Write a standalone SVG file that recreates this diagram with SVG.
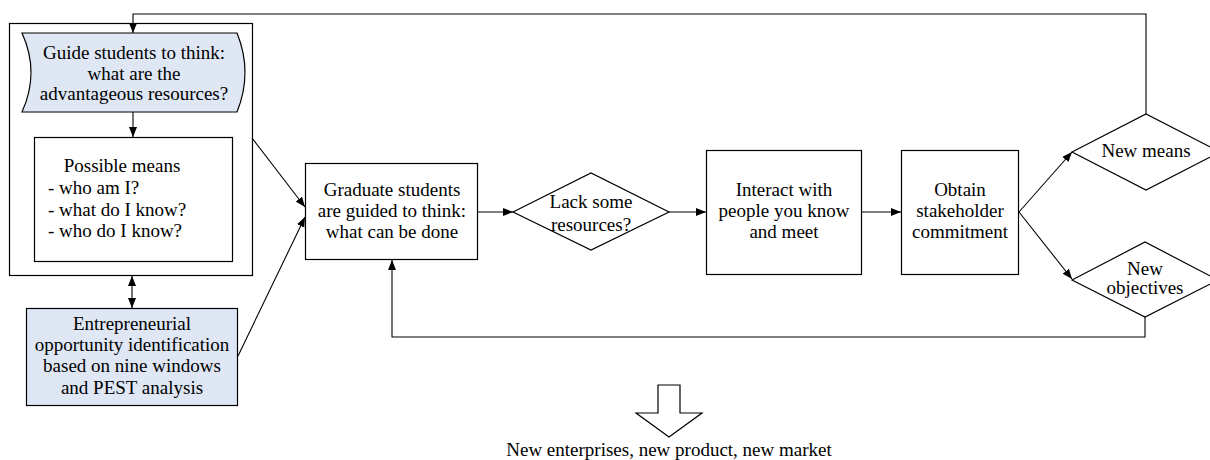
<svg xmlns="http://www.w3.org/2000/svg" width="1210" height="460" viewBox="0 0 1210 460">
<defs>
<marker id="ah" markerUnits="userSpaceOnUse" markerWidth="11" markerHeight="9" refX="10" refY="4" orient="auto-start-reverse" viewBox="0 0 11 9">
<path d="M0,0 L10,4 L0,8 z" fill="#000"/>
</marker>
<style>
.s{fill:#fff;stroke:#000;stroke-width:1.2}
.b{fill:#dfe7f5;stroke:#000;stroke-width:1.2}
.t{font-family:"Liberation Serif","Times New Roman",serif;font-size:19px;fill:#000;text-anchor:middle}
.l{text-anchor:start}
.c{fill:none;stroke:#000;stroke-width:1.1}
</style>
</defs>
<rect width="1210" height="460" fill="#fff"/>
<g id="outer"><rect class="s" x="9.5" y="23.5" width="243" height="252"/></g>
<g id="guide">
<path class="b" d="M22,33 L237,33 Q253,72.5 237,112 L22,112 Q40,72.5 22,33 Z"/>
<text class="t" x="134" y="59">Guide students to think:</text>
<text class="t" x="134" y="80">what are the</text>
<text class="t" x="134" y="100">advantageous resources?</text>
</g>
<g id="means">
<rect class="s" x="34.5" y="137.5" width="198" height="124"/>
<text class="t" x="122" y="172">Possible means</text>
<text class="t l" x="48" y="194">- who am I?</text>
<text class="t l" x="48" y="216">- what do I know?</text>
<text class="t l" x="48" y="237">- who do I know?</text>
</g>
<g id="entre">
<rect class="b" x="26.5" y="308.5" width="211" height="97"/>
<text class="t" x="132" y="330">Entrepreneurial</text>
<text class="t" x="132" y="351">opportunity identification</text>
<text class="t" x="132" y="372">based on nine windows</text>
<text class="t" x="132" y="394">and PEST analysis</text>
</g>
<g id="graduate">
<rect class="s" x="305.5" y="163.5" width="172" height="96"/>
<text class="t" x="392" y="196">Graduate students</text>
<text class="t" x="392" y="217">are guided to think:</text>
<text class="t" x="392" y="238">what can be done</text>
</g>
<g id="lack">
<path class="s" d="M513,212 L591,173 L669,212 L591,250 Z"/>
<text class="t" x="591" y="208">Lack some</text>
<text class="t" x="591" y="231">resources?</text>
</g>
<g id="interact">
<rect class="s" x="706.5" y="150.5" width="155" height="124"/>
<text class="t" x="784" y="196">Interact with</text>
<text class="t" x="784" y="217">people you know</text>
<text class="t" x="784" y="238">and meet</text>
</g>
<g id="obtain">
<rect class="s" x="901.5" y="150.5" width="117" height="124"/>
<text class="t" x="960" y="196">Obtain</text>
<text class="t" x="960" y="217">stakeholder</text>
<text class="t" x="960" y="238">commitment</text>
</g>
<g id="newmeans">
<path class="s" d="M1072,152 L1146,114 L1220,152 L1146,190 Z"/>
<text class="t" x="1146" y="157">New means</text>
</g>
<g id="newobj">
<path class="s" d="M1072,280 L1145,242 L1218,280 L1145,317 Z"/>
<text class="t" x="1145" y="275">New</text>
<text class="t" x="1145" y="294">objectives</text>
</g>
<g id="result">
<path class="s" d="M658,385 L680,385 L680,413 L702,413 L669,437 L636,413 L658,413 Z"/>
<text class="t" x="669" y="456">New enterprises, new product, new market</text>
</g>
<g id="connectors">
<polyline class="c" points="1146,114 1146,14 133,14 133,33" marker-end="url(#ah)"/>
<line class="c" x1="133" y1="112" x2="133" y2="137" marker-end="url(#ah)"/>
<line class="c" x1="132" y1="276" x2="132" y2="308" marker-start="url(#ah)" marker-end="url(#ah)"/>
<line class="c" x1="252" y1="138" x2="305" y2="207" marker-end="url(#ah)"/>
<line class="c" x1="238" y1="356" x2="305" y2="217" marker-end="url(#ah)"/>
<line class="c" x1="478" y1="212" x2="513" y2="212" marker-end="url(#ah)"/>
<line class="c" x1="669" y1="212" x2="706" y2="212" marker-end="url(#ah)"/>
<line class="c" x1="862" y1="212" x2="901" y2="212" marker-end="url(#ah)"/>
<line class="c" x1="1019" y1="212" x2="1072" y2="152" marker-end="url(#ah)"/>
<line class="c" x1="1019" y1="212" x2="1072" y2="279" marker-end="url(#ah)"/>
<polyline class="c" points="1145,317 1145,337 392,337 392,260" marker-end="url(#ah)"/>
</g>
</svg>
